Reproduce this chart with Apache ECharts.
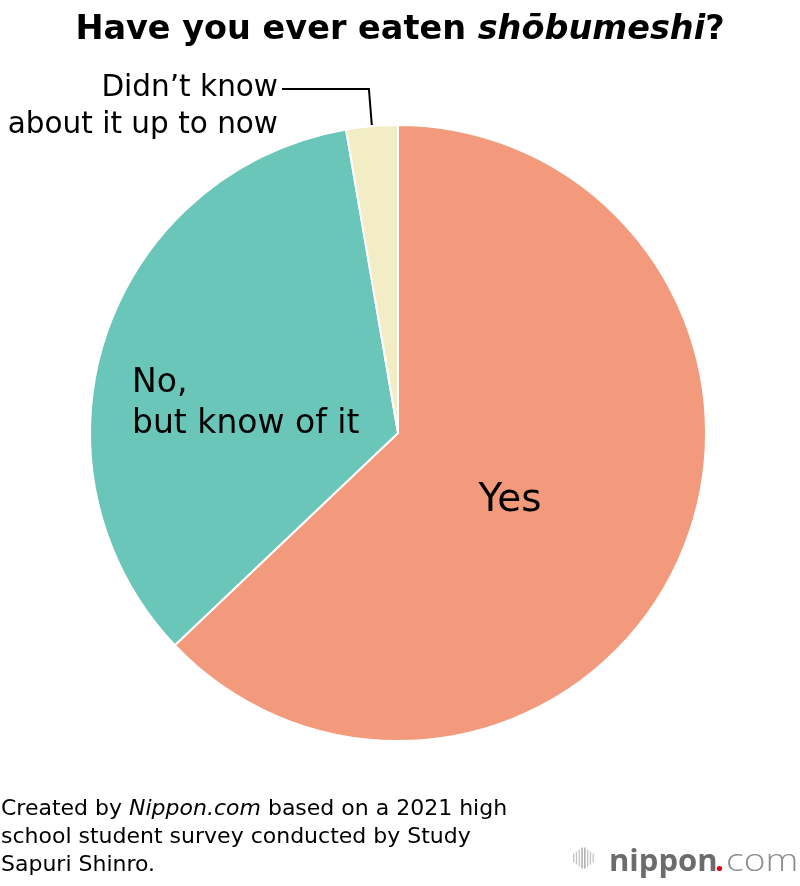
<!DOCTYPE html>
<html>
<head>
<meta charset="utf-8">
<script src="https://cdn.jsdelivr.net/npm/echarts@6/dist/echarts.min.js"></script>
<style>
html,body{margin:0;padding:0;background:#fff;}
#c{width:800px;height:886px;}
</style>
</head>
<body>
<div id="c"></div>
<script>
// ---- data ----
const categories = ['Yes', 'No,\nbut know of it', 'Didn\u2019t know\nabout it up to now'];
const values = [62.9, 34.4, 2.7];
const colors = ['#F29A7B', '#6AC6B9', '#F2EDC4'];
const titleParts = ['Have you ever eaten ', 'sh\u014Dbumeshi', '?'];
const sourceLines = [
  ['Created by ', 'Nippon.com', ' based on a 2021 high'],
  ['school student survey conducted by Study'],
  ['Sapuri Shinro.']
];
const logoParts = ['nippon', '.', 'com'];

const FONT = '"DejaVu Sans", "Liberation Sans", Arial, sans-serif';

// label styling/positions (presentation only)
const labelStyles = [
  {fontSize: 39, align: 'center', x: 510, y: 501},
  {fontSize: 33, align: 'left', x: 132, y: 404, lineHeight: 41},
  {fontSize: 29.5, align: 'right', x: 278, y: 107, lineHeight: 37}
];

const chart = echarts.init(document.getElementById('c'), null, {renderer: 'canvas'});

const pieData = categories.map((name, i) => ({
  name: name,
  value: values[i],
  itemStyle: {color: colors[i]},
  label: {
    fontSize: labelStyles[i].fontSize,
    lineHeight: labelStyles[i].lineHeight || labelStyles[i].fontSize * 1.2,
    align: labelStyles[i].align
  },
  labelLine: {show: i === 2, lineStyle: {color: '#000', width: 2}}
}));

const srcRich = {
  r: {fontFamily: FONT, fontSize: 22, color: '#000', lineHeight: 28},
  it: {fontFamily: FONT, fontSize: 22, color: '#000', fontStyle: 'italic', lineHeight: 28}
};
const srcText = sourceLines.map(parts => parts.map((p, k) =>
  (parts.length === 3 && k === 1) ? '{it|' + p + '}' : '{r|' + p + '}').join('')).join('\n');

const barH = [9, 13, 17, 21, 21, 17, 13, 9];
const bars = barH.map((h, i) => ({
  type: 'rect',
  shape: {x: 573 + i * 2.8, y: 858 - h / 2, width: 1.3, height: h},
  style: {fill: (i === 3 || i === 4) ? '#a0a0a0' : '#c4c4c4'}
}));

const option = {
  backgroundColor: '#fff',
  animation: false,
  title: {
    left: 'center',
    top: 8,
    text: '{b|' + titleParts[0] + '}{i|' + titleParts[1] + '}{b|' + titleParts[2] + '}',
    textStyle: {
      rich: {
        b: {fontFamily: FONT, fontSize: 33.5, fontWeight: 'bold', color: '#000'},
        i: {fontFamily: FONT, fontSize: 33.5, fontWeight: 'bold', fontStyle: 'italic', color: '#000'}
      }
    }
  },
  series: [{
    type: 'pie',
    center: [398, 433],
    radius: [0, 308],
    startAngle: 90,
    clockwise: true,
    avoidLabelOverlap: false,
    silent: true,
    itemStyle: {borderColor: '#fff', borderWidth: 2},
    label: {
      show: true,
      position: 'outside',
      color: '#000',
      fontFamily: FONT,
      formatter: '{b}'
    },
    labelLine: {show: false},
    labelLayout: function (params) {
      const s = labelStyles[params.dataIndex];
      const res = {x: s.x, y: s.y, align: s.align, verticalAlign: 'middle'};
      if (params.dataIndex === 2) {
        const pts = params.labelLinePoints;
        const edge = pts ? pts[0] : [372, 127];
        res.labelLinePoints = [edge, [edge[0] - 3, 89], [282, 89]];
      }
      return res;
    },
    data: pieData
  }],
  graphic: [
    {
      type: 'text',
      left: 1,
      top: 798,
      style: {text: srcText, rich: srcRich, fill: '#000'}
    },
    {
      type: 'text',
      x: 609, y: 862,
      style: {
        text: logoParts[0], fontFamily: '"Open Sans", sans-serif', fontSize: 31, fontWeight: 'bold',
        fill: '#6c6c6c', verticalAlign: 'middle', align: 'left'
      }
    },
    {
      type: 'text',
      x: 715, y: 862,
      style: {
        text: logoParts[1], fontFamily: '"Open Sans", sans-serif', fontSize: 31, fontWeight: 'bold',
        fill: '#e60012', verticalAlign: 'middle', align: 'left'
      }
    },
    {
      type: 'text',
      x: 726, y: 862, scaleX: 1.2,
      style: {
        text: logoParts[2], fontFamily: '"Open Sans", sans-serif', fontSize: 31, fontWeight: 300,
        fill: '#8c8c8c', verticalAlign: 'middle', align: 'left'
      }
    }
  ].concat(bars)
};

chart.setOption(option);
</script>
</body>
</html>
